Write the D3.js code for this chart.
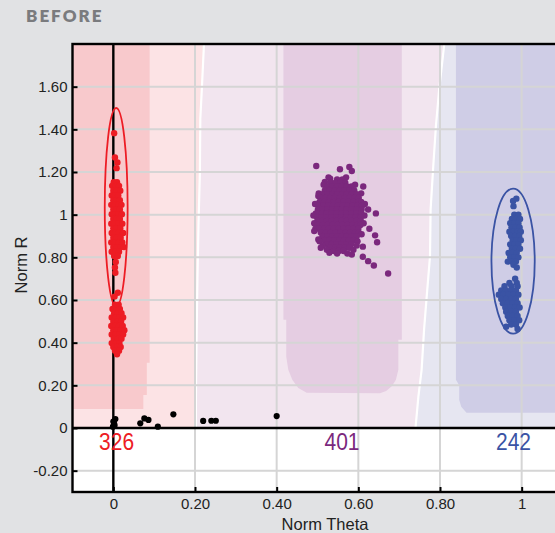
<!DOCTYPE html>
<html><head><meta charset="utf-8">
<script src="https://cdn.jsdelivr.net/npm/d3@7"></script>
<style>
html,body{margin:0;padding:0;background:#e1e2e4;}
svg{display:block;}
</style></head><body>
<svg id="c" width="555" height="533"></svg>
<script>
// ---------- data ----------
const xTicks = [0, 0.2, 0.4, 0.6, 0.8, 1];
const yTicks = [-0.2, 0, 0.2, 0.4, 0.6, 0.8, 1, 1.2, 1.4, 1.6];
const classCounts = [326, 401, 242];
const classLabelTheta = [0.008, 0.56, 0.98];
const classColors = ["#ed1c24", "#7b287d", "#3a53a4"];

// decision region boundaries [theta, R]
const boundaryRedPurple = [[0.222,1.8],[0.220,1.72],[0.2165,1.58],[0.213,1.45],[0.212,1.2],[0.2085,0.95],[0.206,0.7],[0.204,0.45],[0.2025,0.2],[0.202,0]];
const boundaryPurpleBlue = [[0.8105,1.8],[0.798,1.589],[0.790,1.415],[0.7835,1.227],[0.777,1.025],[0.7755,0.804],[0.7674,0.616],[0.761,0.461],[0.755,0.273],[0.747,0.146],[0.740,0]];
const coreRed = [[-0.1,1.8],[0.089,1.8],[0.089,0.306],[0.082,0.306],[0.082,0.155],[0.0735,0.155],[0.0735,0.089],[-0.1,0.089]];
const corePurple = [[0.4165,1.8],[0.4165,0.508],[0.4235,0.508],[0.4235,0.334],[0.4285,0.273],[0.4383,0.226],[0.453,0.188],[0.4735,0.165],[0.653,0.163],[0.668,0.174],[0.6825,0.197],[0.692,0.226],[0.698,0.273],[0.698,0.414],[0.7065,0.414],[0.7065,1.8]];
const coreBlue = [[0.839,1.8],[0.839,0.226],[0.847,0.2],[0.847,0.132],[0.852,0.1],[0.865,0.072],[1.1,0.072],[1.1,1.8]];

// confidence ellipses
const ellipseClass = [0, 2];
const ellipseTheta = [0.007, 0.979];
const ellipseR = [1.035, 0.782];
const ellipseHalfTheta = [0.028, 0.053];
const ellipseHalfR = [0.465, 0.34];

// points, grouped in rows: [R, [theta...]]
const redRows = [
 [1.382,[0.002]],[1.268,[0.004]],[1.245,[0.010]],[1.218,[0.008]],
 [1.152,[0.001,0.009]],[1.135,[-0.003,0.006,0.014]],[1.112,[0.000,0.009,0.017]],
 [1.090,[-0.004,0.004,0.012]],[1.068,[0.000,0.008,0.016]],[1.046,[-0.005,0.004,0.012,0.020]],
 [1.024,[0.000,0.008,0.016]],[1.002,[-0.004,0.004,0.012,0.021]],[0.980,[0.000,0.008,0.016]],
 [0.958,[-0.005,0.004,0.012,0.022]],[0.936,[0.000,0.008,0.017]],[0.914,[-0.004,0.005,0.013,0.024]],
 [0.892,[0.000,0.009,0.018]],[0.870,[-0.005,0.004,0.013,0.022]],[0.848,[0.000,0.009,0.018,0.026]],
 [0.826,[-0.004,0.005,0.014]],[0.806,[0.002,0.011]],[0.778,[0.006]],[0.752,[0.004]],[0.728,[0.005]],
 [0.634,[0.011]],[0.616,[0.003]],
 [0.578,[0.004,0.013]],[0.558,[-0.002,0.007,0.016]],[0.538,[0.002,0.011,0.020]],
 [0.518,[-0.004,0.006,0.015,0.024]],[0.498,[0.000,0.010,0.019]],[0.478,[-0.005,0.005,0.014,0.023]],
 [0.458,[0.000,0.009,0.018,0.027]],[0.438,[-0.004,0.006,0.015,0.024]],[0.418,[0.001,0.011,0.020]],
 [0.398,[-0.004,0.006,0.015]],[0.380,[0.000,0.010,0.018]],[0.362,[0.004,0.014]],[0.346,[0.009]]
];
const purpleRows = [
 [1.228,[0.497]],[1.224,[0.578]],[1.213,[0.555]],[1.205,[0.584]],[1.175,[0.527,0.570]],[1.169,[0.531]],[1.153,[0.518]],
 [1.165,[0.548,0.561]],
 [1.150,[0.532,0.544,0.556,0.568]],
 [1.140,[0.515,0.592]],
 [1.132,[0.524,0.536,0.548,0.560,0.572,0.583,0.612]],
 [1.114,[0.518,0.530,0.542,0.554,0.566,0.578,0.590]],
 [1.100,[0.503,0.607]],
 [1.096,[0.512,0.524,0.536,0.548,0.560,0.572,0.584,0.596]],
 [1.087,[0.502]],
 [1.078,[0.508,0.519,0.531,0.543,0.555,0.567,0.579,0.591,0.601]],
 [1.060,[0.505,0.516,0.528,0.540,0.552,0.564,0.576,0.588,0.600,0.607]],
 [1.050,[0.494,0.616]],
 [1.042,[0.503,0.514,0.526,0.538,0.550,0.562,0.574,0.586,0.598,0.609]],
 [1.024,[0.501,0.512,0.524,0.536,0.548,0.560,0.572,0.584,0.596,0.608,0.624]],
 [1.006,[0.496,0.500,0.511,0.523,0.535,0.547,0.559,0.571,0.583,0.595,0.607,0.643]],
 [0.996,[0.490,0.615]],
 [0.988,[0.499,0.510,0.522,0.534,0.546,0.558,0.570,0.582,0.594,0.606]],
 [0.970,[0.500,0.511,0.523,0.535,0.547,0.559,0.571,0.583,0.595,0.606]],
 [0.960,[0.492,0.613]],
 [0.952,[0.501,0.513,0.525,0.537,0.549,0.561,0.573,0.585,0.597,0.605]],
 [0.934,[0.495,0.504,0.516,0.528,0.540,0.552,0.564,0.576,0.588,0.600,0.627]],
 [0.923,[0.492]],
 [0.916,[0.508,0.520,0.532,0.544,0.556,0.568,0.580,0.592,0.601]],
 [0.908,[0.608]],[0.903,[0.641]],
 [0.898,[0.512,0.524,0.536,0.548,0.560,0.572,0.584,0.596]],
 [0.884,[0.502]],
 [0.880,[0.517,0.529,0.541,0.553,0.565,0.577,0.589]],
 [0.875,[0.505,0.598]],[0.871,[0.646]],
 [0.862,[0.523,0.535,0.547,0.559,0.571,0.583]],
 [0.855,[0.513,0.596]],[0.850,[0.611]],[0.845,[0.508]],
 [0.845,[0.531,0.543,0.555,0.567,0.578]],
 [0.835,[0.523,0.588]],
 [0.830,[0.540,0.552,0.564]],
 [0.821,[0.529]],[0.818,[0.548,0.573]],[0.813,[0.584]],[0.803,[0.611]],[0.782,[0.624]],[0.762,[0.638]],[0.724,[0.673]]
];
const blueRows = [
 [1.075,[0.987]],[1.064,[0.979]],[1.040,[0.980]],
 [1.000,[0.982,0.992]],[0.980,[0.976,0.986,0.996]],[0.960,[0.972,0.982,0.992]],
 [0.940,[0.975,0.985,0.995]],[0.920,[0.970,0.980,0.990,0.998]],[0.900,[0.974,0.984,0.994]],
 [0.880,[0.978,0.988,0.998]],[0.860,[0.972,0.982,0.992]],[0.840,[0.976,0.986,0.996]],
 [0.820,[0.968,0.978,0.988]],[0.800,[0.972,0.982,0.992]],[0.780,[0.966,0.976,0.986]],
 [0.765,[0.980]],[0.752,[0.988]],
 [0.700,[0.984]],[0.680,[0.970,0.988]],[0.665,[0.958,0.975,0.990]],
 [0.645,[0.950,0.962,0.974,0.986]],[0.625,[0.944,0.956,0.968,0.980,0.992]],
 [0.605,[0.950,0.962,0.974,0.986]],[0.585,[0.954,0.966,0.978,0.990]],
 [0.565,[0.960,0.972,0.984,0.995]],[0.545,[0.962,0.974,0.986]],[0.525,[0.966,0.978,0.990]],
 [0.505,[0.970,0.982,0.994]],[0.485,[0.974,0.986]],[0.475,[0.962]],[0.464,[0.990]]
];
const otherPts = [[0.000,0.030],[0.002,0.020],[0.005,0.042],[0.003,0.012],[-0.001,0.006],
 [0.066,0.022],[0.076,0.045],[0.086,0.038],[0.109,0.006],[0.147,0.064],
 [0.220,0.033],[0.240,0.034],[0.251,0.034],[0.400,0.056]];

// ---------- layout ----------
const svg = d3.select("#c");
const x = d3.scaleLinear().domain([-0.1, 1.1]).range([72.5, 562.5]);
const y = d3.scaleLinear().domain([-0.3, 1.8]).range([492, 44]);
const fmt = v => v === 0 ? "0" : v === 1 ? "1" : (v < 0 ? "-" : "") + Math.abs(v).toFixed(2);
const font = "'Liberation Sans', Arial, sans-serif";

svg.append("text").attr("x", 26).attr("y", 22).text("BEFORE")
  .attr("font-family", "Lato, sans-serif").attr("font-weight", 800)
  .attr("font-size", 17).attr("letter-spacing", 2).attr("fill", "#7a7b7e");

svg.append("defs").append("clipPath").attr("id", "clip")
  .append("rect").attr("x", x(-0.1)).attr("y", y(1.8))
  .attr("width", x(1.1) - x(-0.1)).attr("height", y(-0.3) - y(1.8));

const g = svg.append("g").attr("clip-path", "url(#clip)");
const line = d3.line().x(d => x(d[0])).y(d => y(d[1]));

// plot background
g.append("rect").attr("x", x(-0.1)).attr("y", y(1.8)).attr("width", x(1.1) - x(-0.1))
  .attr("height", y(-0.3) - y(1.8)).attr("fill", "#ffffff");
// regions
g.append("path").attr("d", line([[-0.1,1.8],[1.1,1.8],[1.1,0],[-0.1,0]]) + "Z").attr("fill", "#e6e6f1");
g.append("path").attr("d", line([[-0.1,1.8], ...boundaryPurpleBlue, [-0.1,0]]) + "Z").attr("fill", "#f2e5ef");
g.append("path").attr("d", line([[-0.1,1.8], ...boundaryRedPurple, [-0.1,0]]) + "Z").attr("fill", "#fce3e5");
g.append("path").attr("d", line(coreRed) + "Z").attr("fill", "#f8c9cc");
g.append("path").attr("d", line(corePurple) + "Z").attr("fill", "#e5cde2");
g.append("path").attr("d", line(coreBlue) + "Z").attr("fill", "#cfcde6");
[boundaryRedPurple, boundaryPurpleBlue].forEach(b =>
  g.append("path").attr("d", line(b)).attr("fill", "none").attr("stroke", "#ffffff").attr("stroke-width", 2.2));

// grid
g.selectAll(".gx").data(xTicks.filter(d => d !== 0)).enter().append("line")
  .attr("x1", d => x(d)).attr("x2", d => x(d)).attr("y1", y(1.8)).attr("y2", y(-0.3))
  .attr("stroke", "#d5d5d5").attr("stroke-width", 2);
g.selectAll(".gy").data(yTicks.filter(d => d !== 0)).enter().append("line")
  .attr("y1", d => y(d)).attr("y2", d => y(d)).attr("x1", x(-0.1)).attr("x2", x(1.1))
  .attr("stroke", "#d5d5d5").attr("stroke-width", 2);

// zero lines
g.append("line").attr("x1", x(0)).attr("x2", x(0)).attr("y1", y(1.8)).attr("y2", y(-0.3))
  .attr("stroke", "#000").attr("stroke-width", 2.4);
g.append("line").attr("y1", y(0)).attr("y2", y(0)).attr("x1", x(-0.1)).attr("x2", x(1.1))
  .attr("stroke", "#000").attr("stroke-width", 2.4);

// counts
g.selectAll(".cnt").data(classCounts).enter().append("text")
  .attr("x", (d, i) => x(classLabelTheta[i])).attr("y", y(-0.103))
  .attr("text-anchor", "middle").attr("font-family", font).attr("font-size", 23)
  .attr("textLength", 35).attr("lengthAdjust", "spacingAndGlyphs")
  .attr("fill", (d, i) => classColors[i]).text(d => d);

// points
const flat = rows => rows.flatMap(r => r[1].map(t => [t, r[0]]));
const pointSets = [flat(redRows), flat(purpleRows), flat(blueRows)];
pointSets.forEach((pts, i) => {
  g.append("g").selectAll("circle").data(pts).enter().append("circle")
    .attr("cx", d => x(d[0])).attr("cy", d => y(d[1])).attr("r", 3.2).attr("fill", classColors[i]);
});
g.append("g").selectAll("circle").data(otherPts).enter().append("circle")
  .attr("cx", d => x(d[0])).attr("cy", d => y(d[1])).attr("r", 3.1).attr("fill", "#000");

// ellipses
ellipseClass.forEach((c, i) => {
  g.append("ellipse").attr("cx", x(ellipseTheta[i])).attr("cy", y(ellipseR[i]))
    .attr("rx", x(ellipseTheta[i] + ellipseHalfTheta[i]) - x(ellipseTheta[i]))
    .attr("ry", y(ellipseR[i] - ellipseHalfR[i]) - y(ellipseR[i]))
    .attr("fill", "none").attr("stroke", classColors[c]).attr("stroke-width", 1.8);
});

// frame
svg.append("rect").attr("x", x(-0.1)).attr("y", y(1.8)).attr("width", x(1.1) - x(-0.1))
  .attr("height", y(-0.3) - y(1.8)).attr("fill", "none").attr("stroke", "#000").attr("stroke-width", 2.4);

// axes
const ax = svg.append("g").attr("transform", `translate(0,${y(-0.3)})`)
  .call(d3.axisBottom(x).tickValues(xTicks).tickFormat(fmt).tickSize(-5).tickPadding(6.5));
const ay = svg.append("g").attr("transform", `translate(${x(-0.1)},0)`)
  .call(d3.axisLeft(y).tickValues(yTicks).tickFormat(fmt).tickSize(-5).tickPadding(5));
[ax, ay].forEach(a => {
  a.select(".domain").remove();
  a.selectAll(".tick line").attr("stroke", "#000").attr("stroke-width", 2);
  a.selectAll(".tick text").attr("font-family", font).attr("font-size", 15).attr("fill", "#222");
});

svg.append("text").attr("x", 325).attr("y", 530).attr("text-anchor", "middle")
  .attr("font-family", font).attr("font-size", 16.5).attr("fill", "#222").text("Norm Theta");
svg.append("text").attr("transform", "translate(27,265) rotate(-90)").attr("text-anchor", "middle")
  .attr("font-family", font).attr("font-size", 16.5).attr("fill", "#222").text("Norm R");
</script>
</body></html>
